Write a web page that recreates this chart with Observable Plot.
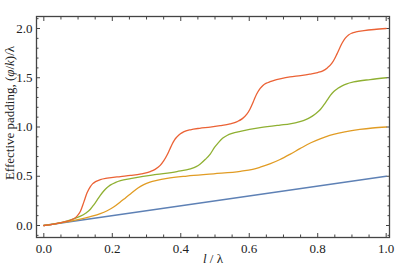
<!DOCTYPE html>
<html><head><meta charset="utf-8">
<script src="https://cdn.jsdelivr.net/npm/d3@7"></script>
<script src="https://cdn.jsdelivr.net/npm/@observablehq/plot@0.6"></script>
<style>
body{margin:0;background:#fff}
svg{display:block}
#chart svg, #chart svg text, #chart svg tspan{font-family:"Liberation Serif","Times New Roman",serif !important;}
</style>
</head><body><div id="chart"></div>
<script>
// Tick values
const xTicks = [0, 0.2, 0.4, 0.6, 0.8, 1.0];
const xMinor = [0.05,0.1,0.15,0.25,0.3,0.35,0.45,0.5,0.55,0.65,0.7,0.75,0.85,0.9,0.95];
const yTicks = [0, 0.5, 1.0, 1.5, 2.0];
const yMinor = [-0.1,0.1,0.2,0.3,0.4,0.6,0.7,0.8,0.9,1.1,1.2,1.3,1.4,1.6,1.7,1.8,1.9,2.1];

// Series: [l/λ, padding]
const curve1 = [[0,0],[1.0,0.5]];
const curve2 = [[0,0],[0.05,0.028],[0.1,0.06],[0.136,0.09],[0.165,0.12],[0.185,0.15],[0.205,0.19],[0.224,0.24],[0.24,0.285],[0.253,0.32],[0.275,0.38],[0.292,0.415],[0.31,0.44],[0.33,0.458],[0.36,0.478],[0.418,0.502],[0.496,0.525],[0.574,0.55],[0.61,0.57],[0.632,0.592],[0.66,0.625],[0.69,0.67],[0.72,0.725],[0.748,0.78],[0.78,0.84],[0.807,0.88],[0.835,0.915],[0.865,0.94],[0.895,0.96],[0.923,0.975],[0.96,0.99],[1.0,1.0]];
const curve3 = [[0,0],[0.05,0.03],[0.087,0.068],[0.107,0.095],[0.122,0.125],[0.136,0.165],[0.146,0.21],[0.156,0.26],[0.165,0.305],[0.175,0.35],[0.185,0.385],[0.194,0.41],[0.21,0.438],[0.224,0.455],[0.253,0.476],[0.29,0.498],[0.33,0.518],[0.389,0.548],[0.428,0.575],[0.445,0.598],[0.457,0.625],[0.472,0.672],[0.486,0.725],[0.498,0.79],[0.51,0.842],[0.522,0.885],[0.535,0.914],[0.55,0.935],[0.574,0.955],[0.632,0.993],[0.69,1.02],[0.719,1.032],[0.748,1.055],[0.765,1.075],[0.777,1.095],[0.792,1.13],[0.807,1.175],[0.818,1.225],[0.828,1.275],[0.837,1.32],[0.847,1.36],[0.858,1.39],[0.87,1.415],[0.885,1.438],[0.905,1.457],[0.953,1.482],[1.0,1.5]];
const curve4 = [[0,0],[0.05,0.03],[0.0875,0.068],[0.097,0.095],[0.107,0.145],[0.117,0.24],[0.126,0.33],[0.136,0.395],[0.143,0.425],[0.151,0.445],[0.165,0.465],[0.185,0.48],[0.224,0.497],[0.253,0.508],[0.285,0.525],[0.311,0.548],[0.325,0.57],[0.34,0.61],[0.35,0.655],[0.36,0.715],[0.368,0.775],[0.374,0.82],[0.381,0.865],[0.389,0.9],[0.398,0.93],[0.408,0.95],[0.428,0.972],[0.455,0.987],[0.486,0.998],[0.515,1.013],[0.544,1.032],[0.565,1.055],[0.58,1.085],[0.593,1.13],[0.602,1.18],[0.61,1.24],[0.617,1.3],[0.625,1.355],[0.632,1.392],[0.64,1.422],[0.65,1.445],[0.661,1.46],[0.675,1.476],[0.69,1.488],[0.719,1.508],[0.75,1.522],[0.777,1.537],[0.8,1.553],[0.815,1.57],[0.828,1.6],[0.841,1.645],[0.849,1.69],[0.856,1.74],[0.864,1.8],[0.871,1.85],[0.88,1.9],[0.89,1.935],[0.9,1.953],[0.912,1.965],[0.935,1.978],[0.965,1.99],[1.0,2.0]];

const seriesNames = ["s1","s2","s3","s4"];
const seriesColors = ["#5E81B5","#E19C24","#8FB032","#EB6235"];
const seriesData = [curve1, curve2, curve3, curve4];

const xLabel = "l / λ";
const yLabel = "Effective padding, (φ/k)/λ";

const rows = [];
seriesData.forEach((s, i) => s.forEach(([x, y]) => rows.push({series: seriesNames[i], x, y})));

const fmt = d3.format(".1f");
const frameColor = "#444";
const plot = Plot.plot({
  width: 407, height: 269,
  marginLeft: 36, marginRight: 18, marginTop: 16, marginBottom: 32,
  style: {fontFamily: "Liberation Serif", fontSize: "13px", background: "white", color: "#222"},
  x: {domain: [-0.0214, 1.0097]},
  y: {domain: [-0.1218, 2.1218]},
  color: {domain: seriesNames, range: seriesColors},
  marks: [
    Plot.axisX({ticks: xTicks, tickSize: 0, tickPadding: 6, tickFormat: fmt, label: null}),
    Plot.axisY({ticks: yTicks, tickSize: 0, tickPadding: 4, tickFormat: fmt, label: null}),
    Plot.axisX({anchor: "bottom", ticks: xTicks, tickSize: 4, dy: -4, text: null, label: null, stroke: frameColor}),
    Plot.axisX({anchor: "bottom", ticks: xMinor, tickSize: 2.5, dy: -2.5, text: null, label: null, stroke: frameColor}),
    Plot.axisX({anchor: "top", ticks: xTicks, tickSize: 4, dy: 4, text: null, label: null, stroke: frameColor}),
    Plot.axisX({anchor: "top", ticks: xMinor, tickSize: 2.5, dy: 2.5, text: null, label: null, stroke: frameColor}),
    Plot.axisY({anchor: "left", ticks: yTicks, tickSize: 4, dx: 4, text: null, label: null, stroke: frameColor}),
    Plot.axisY({anchor: "left", ticks: yMinor, tickSize: 2.5, dx: 2.5, text: null, label: null, stroke: frameColor}),
    Plot.axisY({anchor: "right", ticks: yTicks, tickSize: 4, dx: -4, text: null, label: null, stroke: frameColor}),
    Plot.axisY({anchor: "right", ticks: yMinor, tickSize: 2.5, dx: -2.5, text: null, label: null, stroke: frameColor}),
    Plot.line(rows, {x: "x", y: "y", z: "series", stroke: "series", strokeWidth: 1.3, curve: "monotone-x"}),
    Plot.frame({stroke: frameColor, strokeWidth: 1.3}),
    Plot.text([xLabel], {text: d => d, frameAnchor: "bottom", lineAnchor: "middle", dy: 21, textAnchor: "middle", fontSize: 13, className: "xlab"}),
    Plot.text([yLabel], {text: d => d, frameAnchor: "left", lineAnchor: "middle", rotate: -90, dx: -27, dy: -14, textAnchor: "middle", fontSize: 13, className: "ylab"})
  ]
});
document.getElementById("chart").appendChild(plot);

// italic variables inside the labels
function italicize(sel, parts) {
  const t = d3.select(plot).select(sel + " text");
  if (t.empty()) return;
  t.text(null);
  parts.forEach(([s, it]) => t.append("tspan").attr("font-style", it ? "italic" : "normal").text(s));
}
italicize(".xlab", [["l", true], [" / λ", false]]);
italicize(".ylab", [["Effective padding, (", false], ["φ", true], ["/", false], ["k", true], [")/λ", false]]);
</script>
</body></html>
